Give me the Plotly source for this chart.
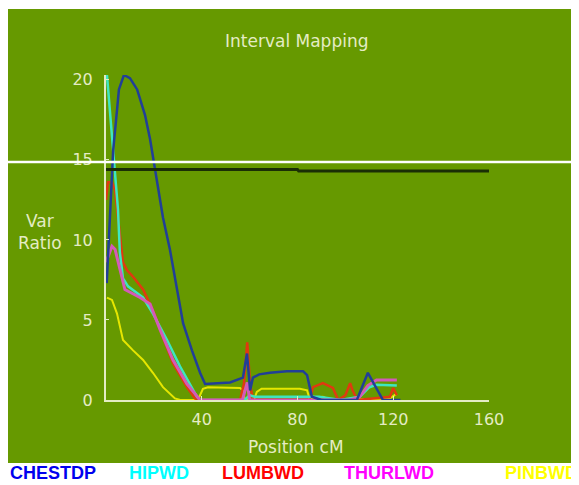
import plotly.graph_objects as go

# ---- data ----
chest_x = [0.3, 1.7, 2.5, 3, 4.6, 5.4, 7.5, 10, 13, 16.3, 18.4, 19.2, 21.3, 23.8, 26.7, 29.7, 32.2, 35.9, 39.3, 41.4,
           46, 51.8, 57.2, 58.9, 60.2, 61.4, 64, 68.5, 75.6, 82.3, 84, 86, 90, 100, 104.8, 109.4, 115.7, 120, 123]
chest_y = [7.3, 11.9, 13.6, 15.6, 18.1, 19.4, 20.3, 20.1, 19.4, 17.8, 16.3, 15.6, 13.6, 11.4, 9.4, 6.9, 4.8, 3.1, 1.7, 1.0,
           1.05, 1.1, 1.4, 2.9, 0.6, 1.4, 1.6, 1.7, 1.8, 1.8, 1.55, 0.2, 0, 0, 0, 1.7, 0, 0, 0]

hip_x = [0.4, 3.0, 3.8, 5.0, 5.8, 7.1, 9.2, 15.5, 19.6, 25.5, 30.9, 38, 39.3, 58, 60, 62, 85, 89, 98, 106, 110, 113, 121.5]
hip_y = [20.3, 15.6, 13.75, 11.9, 9.2, 7.6, 7.1, 6.4, 5.4, 3.75, 2.1, 0.2, 0, 0, 0.3, 0.2, 0.2, 0.2, 0, 0.2, 0.8, 0.95, 0.9]

lumb_x = [0, 0.8, 2.5, 3.8, 5.0, 6.3, 7.1, 8.8, 11.3, 15.5, 19.6, 23.8, 28, 33.8, 37.2, 39, 56, 57.6, 59, 60.2, 61.4,
          85, 86.5, 90.6, 94.8, 97, 100, 102, 103, 105, 118.6, 120, 121.5]
lumb_y = [12.5, 13.6, 13.6, 13.1, 11.4, 9.8, 8.6, 8.1, 7.7, 6.9, 5.6, 3.9, 2.3, 0.8, 0.1, 0, 0, 1.0, 3.6, 1.0, 0,
          0, 0.8, 1.05, 0.75, 0, 0.3, 1.05, 0.6, 0, 0.2, 0.75, 0.3]

thur_x = [0, 2.5, 3.8, 5.8, 7.9, 14.2, 18.4, 22.6, 28, 33.8, 38, 39.3, 57, 59, 60, 102, 106, 109.4, 113, 121.5]
thur_y = [8.6, 9.6, 9.4, 8.1, 6.9, 6.4, 6.0, 4.4, 2.5, 1.0, 0.2, 0, 0, 1.1, 0, 0, 0.2, 0.9, 1.25, 1.25]

pin_x = [0.4, 2.5, 4.6, 7.1, 11.3, 15.5, 19.6, 23.8, 28.8, 31, 38.4, 40.5, 42.6, 56, 57.2, 58, 61.8, 63, 65, 81, 84, 85,
         90.6, 93.6, 118.6, 121.5]
pin_y = [6.4, 6.25, 5.4, 3.75, 3.1, 2.5, 1.7, 0.8, 0.1, 0, 0, 0.7, 0.8, 0.75, 0.6, 0, 0, 0.5, 0.7, 0.7, 0.6, 0.1,
         0.2, 0, 0.1, 0.4]

thresh_x = [0, 80, 80.5, 160]
thresh_y = [14.4, 14.4, 14.3, 14.3]

x_ticks = [40, 80, 120, 160]
y_ticks = [0, 5, 10, 15, 20]

legend_names = ["CHESTDP", "HIPWD", "LUMBWD", "THURLWD", "PINBWD"]

# ---- layout geometry (page has an 8px body margin) ----
OFF = 8
W, H = 579 - OFF, 485 - OFF
# plot area in page pixels: x 106..489, y 75..400
L, R, T, B = 106 - OFF, 579 - 489, 75 - OFF, 485 - 400
pw, ph = W - L - R, H - T - B


def px(xp):
    """page pixel x -> paper x"""
    return (xp - OFF - L) / pw


def py(yp):
    """page pixel y -> paper y"""
    return (H - B - (yp - OFF)) / ph


GREEN = "#669900"
PALE = "#e4ecc4"

fig = go.Figure()

series = [
    (pin_x, pin_y, "#e6e600", 2),
    (lumb_x, lumb_y, "#e03a10", 2.5),
    (hip_x, hip_y, "#3ee6c0", 2.5),
    (thur_x, thur_y, "#d45ab8", 3),
    (chest_x, chest_y, "#213f98", 2.5),
]
for xs, ys, col, w in series:
    fig.add_trace(go.Scatter(x=xs, y=ys, mode="lines", line=dict(color=col, width=w), showlegend=False,
                             hoverinfo="skip"))

fig.add_trace(go.Scatter(x=thresh_x, y=thresh_y, mode="lines", line=dict(color="#1a2e05", width=3),
                         showlegend=False, hoverinfo="skip"))

shapes = [
    dict(type="rect", xref="paper", yref="paper", x0=px(7), x1=px(580), y0=py(463), y1=py(9),
         fillcolor=GREEN, line=dict(width=0), layer="below"),
    dict(type="line", xref="paper", yref="paper", x0=px(7), x1=px(580), y0=py(162), y1=py(162),
         line=dict(color="white", width=2.5), layer="above"),
]

annotations = [
    dict(text="Interval Mapping", xref="paper", yref="paper", x=px(296), y=py(41), showarrow=False,
         font=dict(family="DejaVu Sans", size=17, color=PALE), xanchor="center", yanchor="middle"),
    dict(text="Var<br>Ratio", xref="paper", yref="paper", x=px(40), y=py(232), showarrow=False,
         font=dict(family="DejaVu Sans", size=17, color=PALE), xanchor="center", yanchor="middle"),
    dict(text="Position cM", xref="paper", yref="paper", x=px(296), y=py(447), showarrow=False,
         font=dict(family="DejaVu Sans", size=17, color=PALE), xanchor="center", yanchor="middle"),
]
leg_x = [8, 127, 220, 342, 503]
leg_c = ["#0000ee", "#00ffff", "#ff0000", "#ff00ff", "#ffff00"]
for name, lx, lc in zip(legend_names, leg_x, leg_c):
    annotations.append(dict(text="<b>" + name + "</b>", xref="paper", yref="paper", x=px(lx), y=py(473),
                            showarrow=False, xanchor="left", yanchor="middle",
                            font=dict(family="Liberation Sans", size=18, color=lc)))

fig.update_layout(
    width=W, height=H,
    margin=dict(l=L, r=R, t=T, b=B, pad=0),
    paper_bgcolor="white", plot_bgcolor=GREEN,
    shapes=shapes, annotations=annotations,
    xaxis=dict(range=[0, 160], tickvals=x_ticks, showgrid=False, zeroline=False, showline=True,
               linecolor=PALE, linewidth=2, ticks="inside", ticklen=4, tickcolor=PALE,
               tickfont=dict(family="DejaVu Sans", size=16, color=PALE), ticklabelstandoff=4),
    yaxis=dict(range=[0, 20.3], tickvals=y_ticks, showgrid=False, zeroline=False, showline=True,
               linecolor=PALE, linewidth=2, ticks="inside", ticklen=3, tickcolor=PALE,
               tickfont=dict(family="DejaVu Sans", size=16, color=PALE), ticklabelstandoff=8),
)

fig.write_html("out.html")
